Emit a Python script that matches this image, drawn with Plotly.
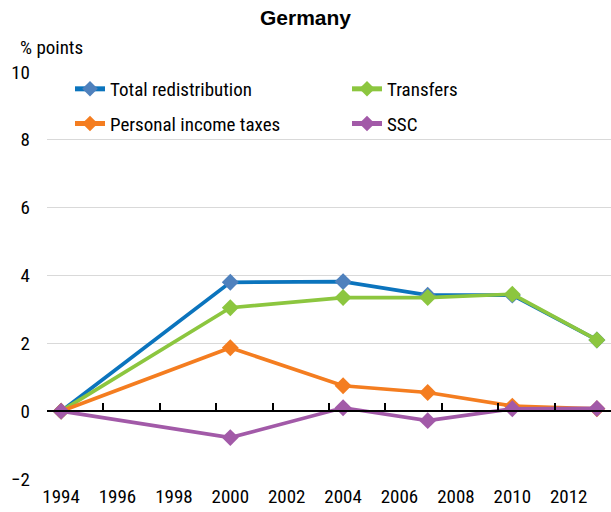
import plotly.graph_objects as go

years = [1994, 2000, 2004, 2007, 2010, 2013]
total_redistribution = [0.0, 3.80, 3.82, 3.42, 3.42, 2.10]
transfers = [0.0, 3.05, 3.35, 3.35, 3.45, 2.10]
personal_income_taxes = [0.0, 1.87, 0.75, 0.55, 0.15, 0.07]
ssc = [0.0, -0.78, 0.10, -0.28, 0.07, 0.08]

x_tick_labels = [1994, 1996, 1998, 2000, 2002, 2004, 2006, 2008, 2010, 2012]
y_ticks = [-2, 0, 2, 4, 6, 8, 10]

FONT = "Liberation Sans Narrow, Arial Narrow, Roboto Condensed, Roboto, Liberation Sans, Arial, sans-serif"

series = [
    ("Total redistribution", total_redistribution, "#0B74BD", "#4F81BD", "legend"),
    ("Transfers", transfers, "#8CC63F", "#8CC63F", "legend2"),
    ("Personal income taxes", personal_income_taxes, "#F47D20", "#F47D20", "legend"),
    ("SSC", ssc, "#A25AA8", "#A25AA8", "legend2"),
]

fig = go.Figure()
for name, vals, lc, mc, lg in series:
    fig.add_trace(go.Scatter(
        x=years, y=vals, name=name, mode="lines+markers",
        line=dict(color=lc, width=3.7),
        marker=dict(symbol="diamond", size=13, color=mc),
        legend=lg, legendgroup=name,
    ))

# invisible trace to carry the zero-crossing axis
fig.add_trace(go.Scatter(x=[years[0]], y=[0], xaxis="x2", mode="markers",
                         marker=dict(opacity=0), showlegend=False, hoverinfo="skip"))

x_range = [1993.5, 2013.5]
legend_common = dict(orientation="v", y=1.005, xanchor="left", yanchor="top",
                     bgcolor="rgba(255,255,255,0)", font=dict(family=FONT, size=19),
                     tracegroupgap=7, itemsizing="constant", traceorder="grouped")
fig.update_layout(
    width=611, height=512,
    margin=dict(l=47, r=0, t=72, b=33),
    paper_bgcolor="white", plot_bgcolor="white",
    font=dict(family=FONT, size=19, color="black"),
    title=dict(text="<b>Germany</b>", x=0.5, xanchor="center", y=1 - 18 / 512, yanchor="middle",
               font=dict(family="Liberation Sans, Arial, sans-serif", size=21, color="black")),
    showlegend=True,
    legend=dict(x=(70 - 47) / 564, **legend_common),
    legend2=dict(x=(347 - 47) / 564, **legend_common),
    xaxis=dict(range=x_range, tickvals=x_tick_labels, ticks="", showgrid=False,
               showline=False, zeroline=False, ticklabelstandoff=4),
    xaxis2=dict(range=x_range, overlaying="x", anchor="free", position=2 / 12, side="bottom",
                tick0=1993.5, dtick=2, tickmode="linear", ticks="inside", ticklen=7,
                tickcolor="black", tickwidth=1.5, showticklabels=False, showgrid=False,
                showline=True, linecolor="black", linewidth=1.5, zeroline=False),
    yaxis=dict(range=[-2, 10], tickvals=y_ticks, showgrid=True, gridcolor="#D9D9D9",
               gridwidth=1.3, zeroline=False, showline=False, ticks="", ticklabelstandoff=16),
    annotations=[dict(text="% points", xref="paper", yref="paper", x=(18 - 47) / 564,
                      y=1 + 24 / 407, xanchor="left", yanchor="middle", showarrow=False,
                      font=dict(family=FONT, size=19))],
)

fig.write_html("out.html", config={"displayModeBar": False},
               post_script="document.body.style.margin='0px';")
